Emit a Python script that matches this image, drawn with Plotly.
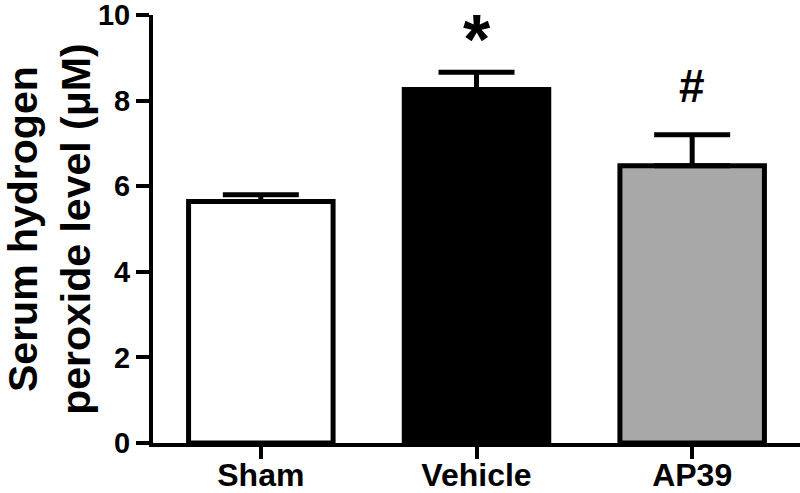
import plotly.graph_objects as go

categories = ["Sham", "Vehicle", "AP39"]
values = [5.64, 8.26, 6.48]
errors_up = [0.16, 0.40, 0.72]
fill_colors = ["#ffffff", "#000000", "#a8a8a8"]
sig_marks = ["", "*", "#"]
y_ticks = [0, 2, 4, 6, 8, 10]
y_title = "Serum hydrogen<br>peroxide level (μM)"

FONT = "Liberation Sans, Arial, sans-serif"

fig = go.Figure()
fig.add_trace(go.Bar(
    x=categories,
    y=values,
    width=0.67,
    marker=dict(color=fill_colors, line=dict(color="black", width=5)),
    error_y=dict(type="data", symmetric=False, array=errors_up,
                 arrayminus=[0] * len(values), color="black",
                 thickness=5, width=38),
))

# significance marks
sig_y = {"*": 9.42, "#": 8.33}
sig_size = {"*": 70, "#": 46}
for cat, m in zip(categories, sig_marks):
    if m:
        fig.add_annotation(x=cat, y=sig_y[m], text=m, showarrow=False,
                           font=dict(family=FONT, size=sig_size[m], color="black", weight="bold"),
                           xanchor="center", yanchor="middle")

# y-axis title (as a rotated annotation for precise placement)
fig.add_annotation(xref="paper", yref="paper", x=-0.161, y=0.5,
                   text=y_title, textangle=-90, showarrow=False,
                   xanchor="center", yanchor="middle",
                   font=dict(family=FONT, size=41, color="black", weight="bold"))

fig.update_layout(
    width=800, height=493,
    margin=dict(l=153, r=0, t=15, b=50),
    plot_bgcolor="white", paper_bgcolor="white",
    showlegend=False,
    font=dict(family=FONT, color="black"),
)
fig.update_xaxes(
    range=[-0.5, 2.5],
    automargin=False,
    showline=True, linecolor="black", linewidth=4,
    ticks="outside", ticklen=12, tickwidth=4, tickcolor="black",
    tickfont=dict(family=FONT, size=32, color="black", weight="bold"),
    ticklabeloverflow="allow",
    ticklabelstandoff=-11,
    showgrid=False, zeroline=False,
)
fig.update_yaxes(
    range=[0, 10],
    tickvals=y_ticks,
    automargin=False,
    showline=True, linecolor="black", linewidth=4,
    ticks="outside", ticklen=13, tickwidth=4, tickcolor="black",
    tickfont=dict(family=FONT, size=29, color="black", weight="bold"),
    ticklabeloverflow="allow",
    showgrid=False, zeroline=False,
)

fig.write_html("out.html",
               config={"displayModeBar": False},
               post_script="document.body.style.margin='0';document.body.style.padding='0';")
